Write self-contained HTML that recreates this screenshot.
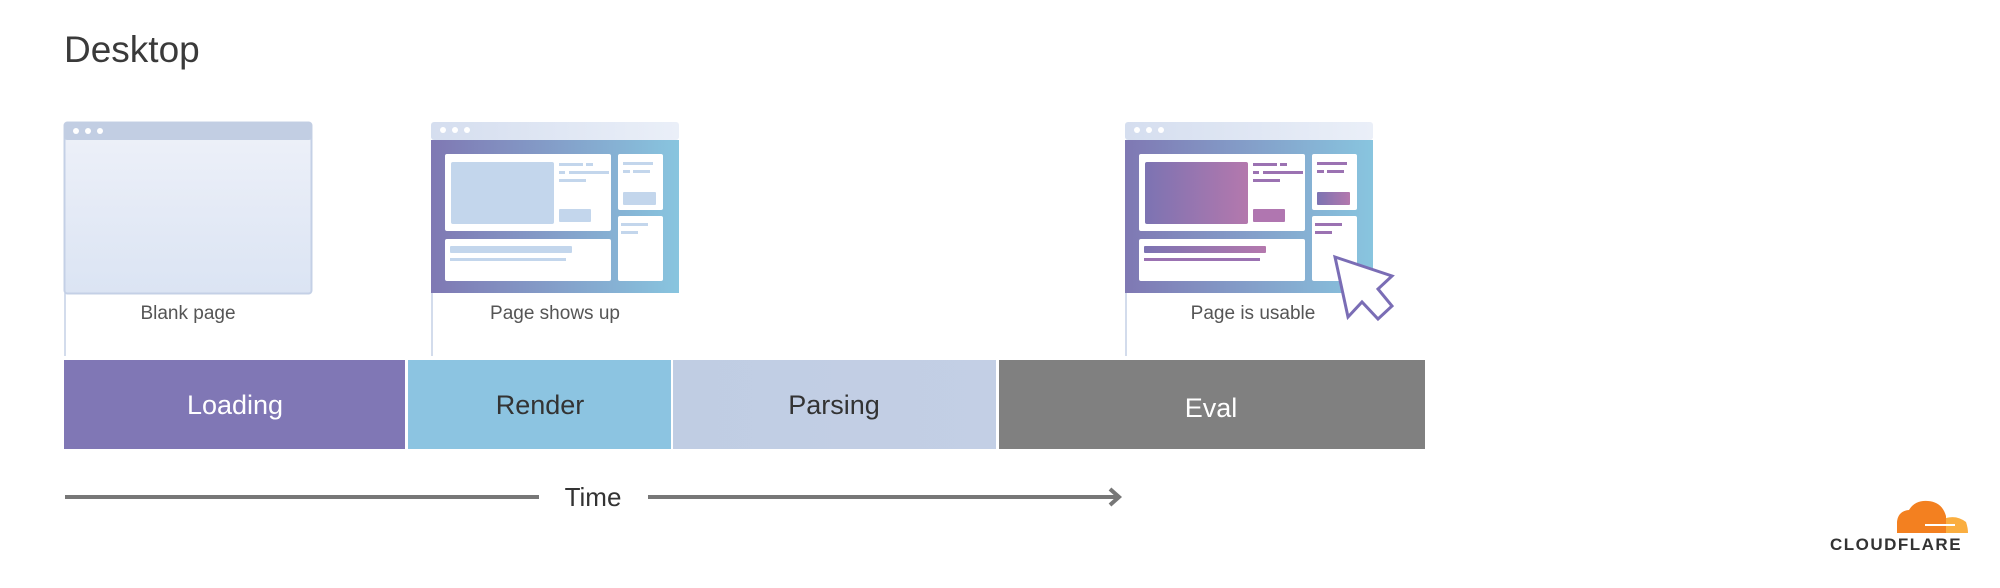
<!DOCTYPE html>
<html><head><meta charset="utf-8"><style>
html,body{margin:0;padding:0;background:#fff;}
svg{display:block;}
text{font-family:"Liberation Sans","DejaVu Sans",sans-serif;}
</style></head><body>
<svg width="2000" height="588" viewBox="0 0 2000 588" xmlns="http://www.w3.org/2000/svg">
<defs>
<linearGradient id="blank" x1="0" y1="0" x2="0" y2="1"><stop offset="0" stop-color="#eef1f9"/><stop offset="1" stop-color="#dbe4f3"/></linearGradient>
<linearGradient id="tb" x1="0" y1="0" x2="1" y2="0"><stop offset="0" stop-color="#d5deef"/><stop offset="1" stop-color="#eaeff8"/></linearGradient>
<linearGradient id="bg" x1="0" y1="0" x2="1" y2="0"><stop offset="0" stop-color="#7f78b3"/><stop offset="1" stop-color="#88c5df"/></linearGradient>
<linearGradient id="pp" x1="0" y1="0" x2="1" y2="0"><stop offset="0" stop-color="#7c73b2"/><stop offset="1" stop-color="#b478ad"/></linearGradient>
<linearGradient id="parse" x1="0" y1="0" x2="1" y2="0"><stop offset="0" stop-color="#c0cde3"/><stop offset="1" stop-color="#c3cfe5"/></linearGradient>
<g id="inner">
 <rect x="445" y="154" width="166" height="77" rx="2" fill="#fff"/>
 <rect x="445" y="239" width="166" height="42" rx="2" fill="#fff"/>
 <rect x="618" y="154" width="45" height="56" rx="2" fill="#fff"/>
 <rect x="618" y="216" width="45" height="65" rx="2" fill="#fff"/>
</g>
</defs>
<text x="64" y="62" font-size="37" fill="#3a3a3a">Desktop</text>

<!-- blank window -->
<rect x="64.5" y="122.5" width="247" height="171" rx="3" fill="url(#blank)" stroke="#c4d0e6" stroke-width="2"/>
<rect x="64" y="122" width="248" height="18" rx="3" fill="#c2cee3"/>
<circle cx="76" cy="131" r="3" fill="#fff"/><circle cx="88" cy="131" r="3" fill="#fff"/><circle cx="100" cy="131" r="3" fill="#fff"/>
<line x1="65" y1="293" x2="65" y2="356" stroke="#c4d0e6" stroke-width="1.5"/>
<text x="188" y="319" font-size="19" fill="#555" text-anchor="middle">Blank page</text>

<!-- window 2 -->
<rect x="431" y="122" width="248" height="18" rx="3" fill="url(#tb)"/>
<circle cx="443" cy="130" r="3" fill="#fff"/><circle cx="455" cy="130" r="3" fill="#fff"/><circle cx="467" cy="130" r="3" fill="#fff"/>
<rect x="431" y="140" width="248" height="153" fill="url(#bg)"/>
<use href="#inner"/>
<rect x="451" y="162" width="103" height="62" rx="2" fill="#c3d6ec"/>
<rect x="559" y="209" width="32" height="13" rx="1" fill="#c3d6ec"/>
<g fill="#c3d6ec"><rect x="559" y="163" width="24" height="3"/><rect x="586" y="163" width="7" height="3"/><rect x="559" y="171" width="6" height="3"/><rect x="569" y="171" width="40" height="3"/><rect x="559" y="179" width="27" height="3"/>
<rect x="623" y="162" width="30" height="3"/><rect x="623" y="170" width="7" height="3"/><rect x="633" y="170" width="17" height="3"/><rect x="623" y="192" width="33" height="13" rx="1"/>
<rect x="621" y="223" width="27" height="3"/><rect x="621" y="231" width="17" height="3"/>
<rect x="450" y="246" width="122" height="7" rx="1"/><rect x="450" y="258" width="116" height="3"/></g>
<line x1="432" y1="293" x2="432" y2="356" stroke="#c4d0e6" stroke-width="1.5"/>
<text x="555" y="319" font-size="19" fill="#555" text-anchor="middle">Page shows up</text>

<!-- window 3 -->
<g transform="translate(694,0)">
<rect x="431" y="122" width="248" height="18" rx="3" fill="url(#tb)"/>
<circle cx="443" cy="130" r="3" fill="#fff"/><circle cx="455" cy="130" r="3" fill="#fff"/><circle cx="467" cy="130" r="3" fill="#fff"/>
<rect x="431" y="140" width="248" height="153" fill="url(#bg)"/>
<use href="#inner"/>
<rect x="451" y="162" width="103" height="62" rx="2" fill="url(#pp)"/>
<rect x="559" y="209" width="32" height="13" rx="1" fill="#b076b0"/>
<g fill="#9b72b2"><rect x="559" y="163" width="24" height="3"/><rect x="586" y="163" width="7" height="3"/><rect x="559" y="171" width="6" height="3"/><rect x="569" y="171" width="40" height="3"/><rect x="559" y="179" width="27" height="3"/>
<rect x="623" y="162" width="30" height="3"/><rect x="623" y="170" width="7" height="3"/><rect x="633" y="170" width="17" height="3"/>
<rect x="621" y="223" width="27" height="3"/><rect x="621" y="231" width="17" height="3"/>
<rect x="450" y="258" width="116" height="3"/></g>
<rect x="623" y="192" width="33" height="13" rx="1" fill="url(#pp)"/>
<rect x="450" y="246" width="122" height="7" rx="1" fill="url(#pp)"/>
</g>
<line x1="1126" y1="293" x2="1126" y2="356" stroke="#c4d0e6" stroke-width="1.5"/>
<text x="1253" y="319" font-size="19" fill="#555" text-anchor="middle">Page is usable</text>
<polygon points="1335,257 1392,276 1378,289 1392,306 1378,319 1362,302 1348,317" fill="#fff" stroke="#7a6db5" stroke-width="3" stroke-linejoin="miter"/>

<!-- bars -->
<rect x="64" y="360" width="341" height="89" fill="#8077b5"/>
<rect x="408" y="360" width="263" height="89" fill="#8cc4e1"/>
<rect x="673" y="360" width="323" height="89" fill="url(#parse)"/>
<rect x="999" y="360" width="426" height="89" fill="#808080"/>
<text x="235" y="414" font-size="27" fill="#fff" text-anchor="middle">Loading</text>
<text x="540" y="414" font-size="27" fill="#333" text-anchor="middle">Render</text>
<text x="834" y="414" font-size="27" fill="#333" text-anchor="middle">Parsing</text>
<text x="1211" y="417" font-size="27" fill="#fff" text-anchor="middle">Eval</text>

<!-- time -->
<line x1="65" y1="497" x2="539" y2="497" stroke="#777" stroke-width="4"/>
<line x1="648" y1="497" x2="1118" y2="497" stroke="#777" stroke-width="4"/>
<polyline points="1110,489 1119,497 1110,505" fill="none" stroke="#777" stroke-width="4"/>
<text x="593" y="506" font-size="26" fill="#333" text-anchor="middle">Time</text>

<!-- cloudflare logo -->
<path d="M1897,533 L1897,522 Q1898,511 1909,510 Q1915,500 1928,501 Q1942,502 1946,516 L1946,533 Z" fill="#f38020"/>
<path d="M1946,533 L1946,518 Q1957,515 1966,522 Q1968,528 1968,533 Z" fill="#faae40"/>
<rect x="1925" y="524" width="30" height="2" fill="#fff"/>
<text x="1896" y="550" font-size="17" font-weight="bold" fill="#333" text-anchor="middle" letter-spacing="1.5">CLOUDFLARE</text>
</svg>
</body></html>
